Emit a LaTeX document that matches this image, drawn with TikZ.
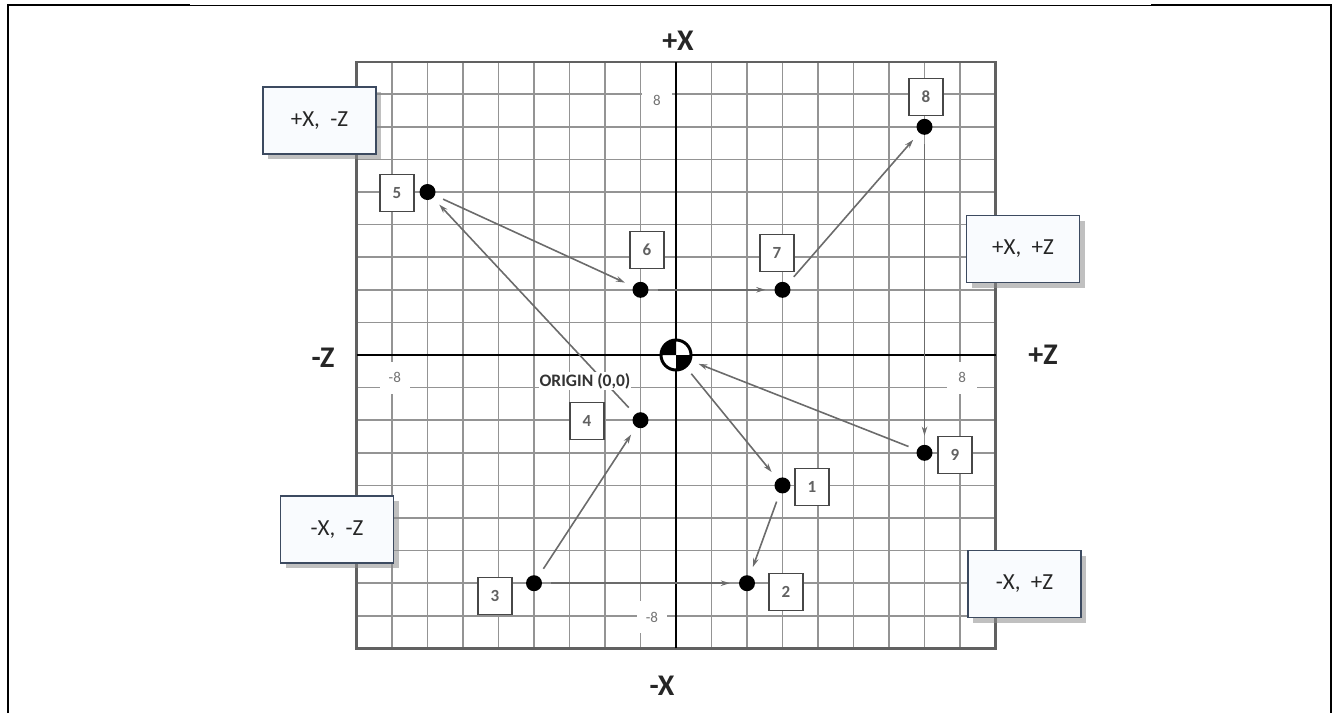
\documentclass[tikz,border=0pt]{standalone}
\usepackage{fontspec}
\setmainfont{Carlito}
\usetikzlibrary{arrows.meta,shadows}
\definecolor{qfill}{HTML}{F9FBFE}
\definecolor{qdraw}{HTML}{3C4A60}
\tikzset{
  gridline/.style={draw=black!42, line width=1.6pt},
  gridborder/.style={draw=black!62, line width=2.2pt},
  axisline/.style={draw=black, line width=2.6pt},
  dot/.style={circle, fill=black, inner sep=0pt, minimum size=16pt},
  arr/.style={draw=black!58, line width=1.6pt, -{Stealth[length=9pt,width=5.5pt]}, shorten >=9pt, shorten <=9pt},
  numbox/.style={draw=black!72, line width=1.8pt, fill=white, minimum width=34pt, minimum height=37pt, inner sep=0pt, font=\fontsize{17}{17}\selectfont\bfseries, text=black!62},
  quadbox/.style={draw=qdraw, line width=1.6pt, fill=qfill, minimum width=113pt, minimum height=67pt, inner sep=0pt, font=\fontsize{23}{23}\selectfont, text=black!85, drop shadow={shadow xshift=5pt, shadow yshift=-5pt, fill=black!45, opacity=0.55}},
  axislabel/.style={font=\fontsize{30}{30}\selectfont\bfseries, text=black!85, inner sep=0pt},
  ticklabel/.style={fill=white, text=black!55, font=\fontsize{15}{15}\selectfont, minimum width=30pt, minimum height=32pt, inner sep=0pt},
  originlabel/.style={fill=white, text=black!80, font=\fontsize{17.5}{17.5}\selectfont\bfseries, inner sep=1pt}
}
\begin{document}
\begin{tikzpicture}[x=1pt,y=-1pt]
\useasboundingbox (0,0) rectangle (1336,713);
% outer frame
\draw[line width=2.6pt] (8,713) -- (8,5) -- (190,5);
\draw[line width=1pt] (190,5) -- (1151,5);
\draw[line width=2.6pt] (1151,5) -- (1331,5) -- (1331,713);

\begin{scope}[shift={(676,355)}, x=35.5pt, y=32.6pt]
  \foreach \i in {-8,...,8} {
    \draw[gridline] (\i,-9) -- (\i,9);
    \draw[gridline] (-9,\i) -- (9,\i);
  }
  \draw[gridborder] (-9,-9) rectangle (9,9);
  \draw[axisline] (-9,0) -- (9,0);
  \draw[axisline] (0,-9) -- (0,9);
  \node[ticklabel] (t1) at (-0.54,7.82) {8};
  \node[ticklabel] (t2) at (-7.92,-0.7) {-8};
  \node[ticklabel] (t3) at (8.06,-0.7) {8};
  \node[ticklabel] (t4) at (-0.68,-8.04) {-8};
  \node[dot] (p1) at (3,-4) {};
  \node[dot] (p2) at (2,-7) {};
  \node[dot] (p3) at (-4,-7) {};
  \node[dot] (p4) at (-1,-2) {};
  \node[dot] (p5) at (-7,5) {};
  \node[dot] (p6) at (-1,2) {};
  \node[dot] (p7) at (3,2) {};
  \node[dot] (p8) at (7,7) {};
  \node[dot] (p9) at (7,-3) {};
\end{scope}

% origin symbol
\node[circle, minimum size=30pt, inner sep=0pt] (O) at (676,355) {};
\fill[white] (676,355) circle[radius=15];
\fill[black] (676,355) -- (661,355) arc[start angle=180, end angle=270, radius=15] -- cycle;
\fill[black] (676,355) -- (691,355) arc[start angle=0, end angle=90, radius=15] -- cycle;
\draw[line width=3pt] (676,355) circle[radius=15];

% path arrows
\draw[arr] (O) -- (p1);
\draw[arr] (p1) -- (p2);
\draw[arr] (p3) -- (p2);
\draw[arr] (p3) -- (p4);
\draw[arr] (p4) -- (p5);
\draw[arr] (p5) -- (p6);
\draw[arr] (p6) -- (p7);
\draw[arr] (p7) -- (p8);
\draw[arr] (p8) -- (p9);
\draw[arr] (p9) -- (O);

\node[originlabel] (orig) at (585,381) {ORIGIN (0,0)};

% number boxes
\node[numbox] (b1) at (812,487) {1};
\node[numbox] (b2) at (786,592) {2};
\node[numbox] (b3) at (495,596) {3};
\node[numbox] (b4) at (587,421) {4};
\node[numbox] (b5) at (397,193) {5};
\node[numbox] (b6) at (647,250) {6};
\node[numbox] (b7) at (777,253) {7};
\node[numbox] (b8) at (926,97) {8};
\node[numbox] (b9) at (955,455) {9};

% axis labels
\node[axislabel] (xp) at (678,41) {+X};
\node[axislabel] (xm) at (662,686) {-X};
\node[axislabel] (zp) at (1043,355) {+Z};
\node[axislabel] (zm) at (323,358) {-Z};

% quadrant boxes
\node[quadbox] (q1) at (319.5,120.5) {+X,\ \ -Z};
\node[quadbox] (q2) at (1023,249) {+X,\ \ +Z};
\node[quadbox] (q3) at (337,529.5) {-X,\ \ -Z};
\node[quadbox] (q4) at (1024.5,584) {-X,\ \ +Z};
\end{tikzpicture}
\end{document}
